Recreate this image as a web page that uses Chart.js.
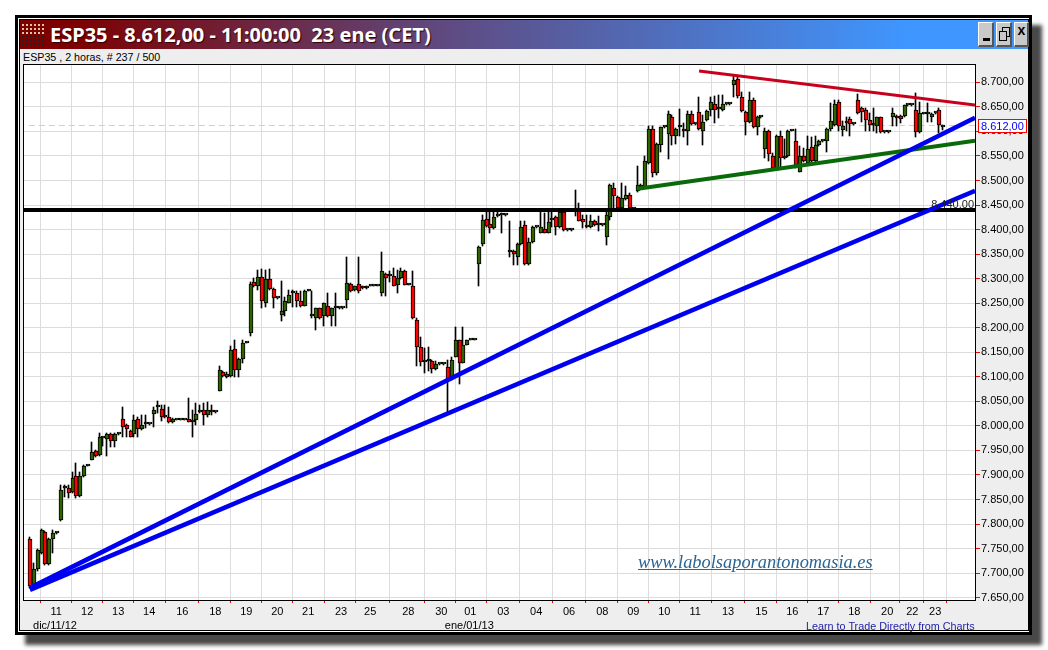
<!DOCTYPE html>
<html lang="es">
<head>
<meta charset="utf-8">
<title>ESP35</title>
<script src="https://cdn.jsdelivr.net/npm/chart.js@4"></script>
<style>
  html, body { margin: 0; padding: 0; background: #fff; }
  #page { position: relative; width: 1048px; height: 650px; overflow: hidden; font-family: "Liberation Sans", Arial, sans-serif; }
  #page div, #page a, #page canvas { position: absolute; }
  #outer { left: 15px; top: 15px; width: 1017px; height: 620px; box-sizing: border-box; border: 3px solid #000; background: #fff; box-shadow: 10px 10px 4px #484848; }
  #inner { left: 19px; top: 19px; width: 1010px; height: 612px; box-sizing: border-box; border: 1px solid #000; background: #eee; }
  #titlebar { left: 20px; top: 20px; width: 1008px; height: 29px; background: linear-gradient(90deg, #7d0000 0%, #7d0000 5%, #5f4a80 42%, #3f96ff 88%, #3f96ff 100%); }
  #title { left: 50px; top: 20px; height: 29px; color: #fff; font: bold 20px/29px "Noto Sans", sans-serif; white-space: pre; text-shadow: 1px 1px 1px #300; }
  .dots { left: 21px; width: 25px; }
  #dotsTop { top: 23px; height: 11px; background-image: radial-gradient(circle, #d6c4a4 1px, transparent 1.2px); background-size: 4px 4px; }
  #dotsBot { top: 34px; height: 12px; background-image: radial-gradient(circle, #222 1px, transparent 1.2px); background-size: 4px 4px; }
  .btn { top: 22px; height: 25px; box-sizing: border-box; background: #c9c9c9; border-top: 1px solid #fff; border-left: 1px solid #fff; border-right: 2px solid #555; border-bottom: 2px solid #555; }
  #subtitle { left: 23px; top: 50px; font-size: 10.7px; line-height: 14px; color: #000; white-space: pre; }
  #watermark { left: 638px; top: 551px; font: italic 18.4px/22px "Liberation Serif", serif; color: #2b6594; text-decoration: underline; white-space: pre; }
  #learn { left: 806px; top: 619px; font-size: 10.8px; line-height: 14px; color: #2222aa; white-space: pre; }
</style>
</head>
<body>
<div id="page">
  <div id="outer"></div>
  <div id="inner"></div>
  <div id="titlebar"></div>
  <div class="dots" id="dotsTop"></div>
  <div class="dots" id="dotsBot"></div>
  <div id="title">ESP35 - 8.612,00 - 11:00:00  23 ene (CET)</div>
  <div class="btn" style="left:978px;width:16px"></div>
  <div style="left:983px;top:38px;width:7px;height:3px;background:#000"></div>
  <div class="btn" style="left:996px;width:16px"></div>
  <div style="left:1002px;top:27px;width:6px;height:8px;border:1px solid #000"></div>
  <div style="left:999px;top:31px;width:6px;height:8px;border:1px solid #000;background:#c9c9c9"></div>
  <div class="btn" style="left:1014px;width:15px"></div>
  <div style="left:1016px;top:22px;width:11px;text-align:center;font:bold 14px/16px 'Liberation Sans',sans-serif;color:#000">x</div>
  <div id="subtitle">ESP35 , 2 horas, # 237 / 500</div>
  <canvas id="chart" width="1048" height="650" style="left:0;top:0"></canvas>
  <div id="watermark">www.labolsaporantonomasia.es</div>
  <div id="learn">Learn to Trade Directly from Charts</div>
</div>
<script>
// Candles, one entry per 2 hour bar
const opens = [
  7770,7674,7708,7742,7783,7718,7769,7781,7809,7873,
  7873,7865,7898,7857,7897,7919,7931,7948,7941,7975,
  7973,7983,7970,7983,8014,8001,7989,7983,8014,7993,
  8003,8003,8024,8039,8034,8022,8018,8007,8012,8012,
  8012,8014,8007,8011,8028,8033,8022,8032,8028,8072,
  8110,8099,8102,8156,8114,8136,8169,8189,8294,8285,
  8304,8250,8299,8279,8260,8226,8234,8250,8270,8270,
  8254,8245,8275,8224,8220,8240,8224,8245,8224,8240,
  8240,8240,8256,8289,8277,8289,8284,8280,8285,8285,
  8285,8270,8309,8306,8306,8288,8301,8315,8288,8285,
  8215,8160,8130,8133,8133,8116,8126,8126,8120,8097,
  8140,8175,8129,8165,8175,8175,8329,8370,8421,8411,
  8404,8427,8429,8429,8354,8357,8345,8370,8410,8329,
  8374,8405,8394,8401,8394,8420,8425,8405,8435,8399,
  8399,8440,8437,8421,8408,8405,8418,8409,8409,8384,
  8425,8484,8466,8444,8463,8471,8442,8479,8490,8486,
  8535,8604,8515,8573,8608,8595,8629,8590,8608,8604,
  8600,8635,8615,8639,8600,8624,8644,8655,8645,8644,
  8655,8655,8695,8706,8670,8639,8619,8663,8609,8629,
  8564,8601,8550,8525,8590,8545,8549,8601,8581,8518,
  8550,8535,8569,8539,8573,8580,8580,8604,8613,8660,
  8603,8620,8625,8615,8664,8647,8643,8624,8613,8612,
  8629,8598,8598,8629,8632,8632,8632,8653,8653,8643,
  8598,8636,8636,8629,8637,8643,8609
];
const highs = [
  7773,7720,7750,7789,7785,7772,7788,7783,7880,7880,
  7880,7907,7924,7907,7920,7920,7968,7950,7985,7977,
  7985,7985,7985,7984,8039,8003,7992,8022,8019,8022,
  8022,8004,8039,8050,8043,8043,8039,8016,8013,8013,
  8013,8056,8033,8046,8043,8046,8048,8043,8029,8122,
  8112,8110,8163,8175,8138,8175,8170,8294,8302,8318,
  8319,8318,8319,8281,8261,8296,8263,8277,8277,8274,
  8274,8277,8276,8274,8240,8241,8251,8270,8240,8270,
  8241,8241,8344,8292,8286,8344,8286,8286,8286,8286,
  8286,8354,8311,8315,8321,8318,8321,8318,8289,8315,
  8219,8182,8158,8160,8135,8133,8127,8127,8135,8141,
  8201,8176,8201,8176,8176,8176,8366,8430,8440,8437,
  8437,8437,8434,8430,8417,8359,8372,8417,8417,8383,
  8407,8406,8437,8434,8437,8437,8427,8437,8436,8400,
  8400,8481,8454,8430,8430,8430,8420,8427,8410,8440,
  8492,8495,8468,8495,8488,8475,8443,8530,8492,8549,
  8610,8610,8577,8609,8609,8641,8634,8607,8645,8617,
  8641,8641,8616,8670,8634,8644,8670,8673,8675,8675,
  8656,8656,8712,8712,8680,8641,8680,8668,8631,8630,
  8607,8603,8556,8592,8601,8584,8603,8602,8605,8571,
  8566,8590,8588,8590,8582,8581,8606,8658,8664,8664,
  8622,8630,8630,8616,8676,8650,8647,8638,8647,8630,
  8630,8599,8599,8647,8634,8634,8654,8654,8654,8678,
  8660,8637,8657,8637,8638,8647,8613
];
const lows = [
  7669,7669,7705,7738,7716,7716,7742,7779,7807,7856,
  7853,7863,7853,7856,7895,7918,7931,7936,7938,7960,
  7938,7958,7958,7982,7977,7977,7977,7977,7977,7991,
  7995,8002,7997,8026,8009,8016,8005,8005,8011,8011,
  8011,8007,7977,8002,8026,8002,8019,8023,8027,8072,
  8100,8097,8100,8099,8100,8129,8168,8184,8283,8277,
  8240,8243,8277,8240,8259,8214,8223,8250,8243,8243,
  8243,8244,8274,8220,8195,8218,8204,8222,8204,8204,
  8239,8239,8240,8273,8275,8270,8278,8278,8284,8284,
  8284,8265,8264,8294,8284,8270,8300,8287,8287,8218,
  8122,8122,8108,8111,8108,8114,8125,8125,8027,8094,
  8140,8085,8129,8164,8174,8174,8284,8366,8406,8394,
  8402,8425,8394,8428,8345,8328,8328,8369,8327,8327,
  8372,8404,8394,8392,8392,8405,8388,8403,8398,8398,
  8398,8428,8417,8403,8404,8403,8408,8398,8408,8369,
  8420,8444,8440,8442,8461,8443,8441,8477,8484,8484,
  8533,8508,8512,8557,8607,8544,8573,8574,8590,8588,
  8573,8613,8614,8603,8573,8622,8631,8618,8627,8642,
  8654,8654,8670,8668,8639,8593,8617,8607,8593,8628,
  8546,8539,8522,8522,8525,8543,8547,8600,8525,8518,
  8537,8533,8535,8537,8571,8579,8559,8600,8611,8600,
  8590,8600,8590,8614,8636,8620,8600,8600,8600,8596,
  8597,8597,8597,8611,8611,8618,8630,8652,8652,8588,
  8597,8635,8620,8620,8636,8596,8603
];
const closes = [
  7673,7708,7747,7787,7718,7770,7781,7781,7870,7873,
  7863,7893,7857,7897,7919,7919,7946,7938,7977,7975,
  7983,7970,7983,7983,7997,7993,7977,8011,7993,8001,
  8003,8003,8033,8039,8018,8018,8007,8014,8012,8012,
  8012,8008,8007,8024,8033,8022,8033,8028,8028,8114,
  8102,8105,8155,8114,8136,8169,8169,8289,8285,8304,
  8254,8299,8279,8260,8260,8235,8254,8267,8270,8254,
  8245,8274,8275,8224,8240,8220,8250,8224,8240,8240,
  8240,8240,8291,8275,8284,8275,8280,8284,8285,8285,
  8285,8315,8301,8309,8284,8301,8315,8288,8288,8220,
  8160,8130,8133,8133,8116,8126,8126,8126,8095,8135,
  8175,8129,8165,8175,8175,8175,8364,8420,8408,8404,
  8425,8428,8429,8429,8354,8350,8370,8405,8329,8374,
  8405,8405,8405,8394,8415,8420,8405,8435,8399,8399,
  8399,8440,8418,8415,8405,8418,8409,8409,8409,8430,
  8491,8469,8444,8464,8471,8444,8442,8490,8486,8540,
  8604,8515,8575,8608,8608,8635,8590,8605,8608,8600,
  8635,8615,8615,8605,8619,8641,8660,8644,8645,8655,
  8655,8655,8705,8673,8641,8620,8663,8609,8629,8629,
  8601,8554,8525,8590,8545,8549,8601,8601,8532,8550,
  8539,8564,8539,8573,8580,8580,8604,8621,8655,8611,
  8612,8618,8615,8615,8638,8640,8624,8613,8613,8629,
  8598,8598,8598,8637,8627,8625,8653,8653,8653,8598,
  8637,8636,8636,8636,8637,8613,8612
];

// X axis: bar position of each day mark and its label
const dayTicks = [6.8,14.8,22.8,30.8,39.35,47.9,55.9,63.9,71.9,80.4,87.9,97.75,106.3,113.8,122.3,130.8,139.3,147.9,155.9,163.9,171.9,180.4,189,197,205,213,221.5,228,233.9];
const dayLabels = ["11","12","13","14","16","18","19","20","21","23","25","28","30","01","03","04","06","08","09","10","11","13","15","16","17","18","20","22","23"];
const monthLabels = ["dic/11/12","ene/01/13"];
const monthTicks = [0.8,107.2];

// Y axis
const priceTicks = [7650,7700,7750,7800,7850,7900,7950,8000,8050,8100,8150,8200,8250,8300,8350,8400,8450,8500,8550,8600,8650,8700];

// Drawn lines: [bar, price] at each end
const blueUpper = [[0,7670],[244.2,8628]];
const blueLower = [[0,7666],[244.2,8479]];
const greenLine = [[157.1,8483],[244.2,8581]];
const redLine = [[172.9,8723],[244.2,8654]];
const lastPrice = 8612;
const supportPrice = 8440;

const X_MIN = -1.8;
const X_MAX = 244.2;
const BODY_SET = 5;
const WICK_SET = 6;

function esPrice(v) {
  const s = v.toFixed(2).replace(".", ",");
  return s.slice(0, 1) + "." + s.slice(1);
}

function toPoints(line) {
  return line.map((p) => ({ x: p[0], y: p[1] }));
}

function lineSet(data, color, width) {
  return { type: "line", data: data, borderColor: color, borderWidth: width, pointRadius: 0, tension: 0, fill: false };
}

// White plot, and candles snapped to whole pixels so they stay crisp
const plotBack = {
  id: "plotBack",
  beforeDraw(chart) {
    const { ctx, chartArea } = chart;
    ctx.save();
    ctx.fillStyle = "#fff";
    ctx.fillRect(chartArea.left, chartArea.top, chartArea.right - chartArea.left, chartArea.bottom - chartArea.top);
    ctx.restore();
  },
  beforeDatasetsDraw(chart) {
    chart.getDatasetMeta(BODY_SET).data.forEach((el) => {
      el.x = Math.round(el.x);
      el.y = Math.round(el.y);
      el.base = Math.round(el.base);
    });
    chart.getDatasetMeta(WICK_SET).data.forEach((el) => {
      el.x = Math.round(el.x) - 0.5;
      el.y = Math.round(el.y);
      el.base = Math.round(el.base);
    });
  },
};

// Texts that sit on the chart but are not ticks
const chartNotes = {
  id: "chartNotes",
  afterDraw(chart) {
    const { ctx, chartArea, scales } = chart;
    ctx.save();
    // plot frame
    ctx.strokeStyle = "#000";
    ctx.lineWidth = 1;
    ctx.strokeRect(chartArea.left + 0.5, chartArea.top + 0.5, chartArea.right - chartArea.left, chartArea.bottom - chartArea.top);

    ctx.font = '11px "Liberation Sans", sans-serif';
    ctx.textBaseline = "middle";

    // level label over the black line
    ctx.fillStyle = "#222";
    ctx.textAlign = "right";
    ctx.fillText(esPrice(supportPrice), chartArea.right - 1, scales.y.getPixelForValue(supportPrice) - 5);

    // last price box
    const py = Math.round(scales.y.getPixelForValue(lastPrice));
    ctx.fillStyle = "#fff";
    ctx.fillRect(978, py - 6, 48, 13);
    ctx.strokeStyle = "#f00";
    ctx.strokeRect(978.5, py - 6.5, 48, 13);
    ctx.fillStyle = "#00f";
    ctx.textAlign = "left";
    ctx.fillText(esPrice(lastPrice), 981, py + 0.5);

    // month marks
    ctx.fillStyle = "#000";
    monthLabels.forEach((m, i) => {
      ctx.fillText(m, scales.x.getPixelForValue(monthTicks[i]), 626);
    });
    ctx.restore();
  },
};

const barIndex = opens.map((_, i) => i);

new Chart(document.getElementById("chart"), {
  data: {
    datasets: [
      lineSet(toPoints(blueUpper), "#0000f0", 4.5),
      lineSet(toPoints(blueLower), "#0000f0", 4.5),
      lineSet(toPoints(redLine), "#c8001e", 3),
      lineSet(toPoints(greenLine), "#0a6a0a", 4),
      lineSet([{ x: X_MIN, y: supportPrice }, { x: X_MAX, y: supportPrice }], "#000", 4),
      {
        type: "bar",
        data: barIndex.map((i) => ({ x: i, y: [opens[i], closes[i]] })),
        backgroundColor: barIndex.map((i) => (closes[i] >= opens[i] ? "#2e6400" : "#ff0000")),
        borderColor: "#000",
        borderWidth: 1,
        borderSkipped: false,
        barThickness: 4,
        minBarLength: 2,
        grouped: false,
      },
      {
        type: "bar",
        data: barIndex.map((i) => ({ x: i, y: [lows[i], highs[i]] })),
        backgroundColor: "#000",
        barThickness: 1,
        grouped: false,
      },
      Object.assign(lineSet([{ x: -0.3, y: lastPrice }, { x: X_MAX, y: lastPrice }], "#cfcfcf", 1), { borderDash: [6, 4] }),
    ],
  },
  options: {
    responsive: false,
    animation: false,
    layout: { padding: { left: 23, top: 64, right: 0, bottom: 0 } },
    plugins: { legend: { display: false }, tooltip: { enabled: false } },
    scales: {
      x: {
        type: "linear",
        min: X_MIN,
        max: X_MAX,
        offset: false,
        afterBuildTicks(scale) {
          scale.ticks = dayTicks.map((v) => ({ value: v }));
        },
        afterFit(scale) {
          scale.height = 50;
        },
        ticks: {
          autoSkip: false,
          maxRotation: 0,
          includeBounds: false,
          padding: 2,
          color: "#000",
          font: { family: "Liberation Sans", size: 11 },
          callback: (v, i) => dayLabels[i],
        },
        grid: { color: "#dcdcdc", tickColor: "#f00", tickLength: 3 },
        border: { display: false },
      },
      y: {
        position: "right",
        min: 7645.3,
        max: 8737.3,
        afterBuildTicks(scale) {
          scale.ticks = priceTicks.map((v) => ({ value: v }));
        },
        afterFit(scale) {
          scale.width = 73;
        },
        ticks: {
          autoSkip: false,
          includeBounds: false,
          padding: 1,
          color: "#000",
          font: { family: "Liberation Sans", size: 11 },
          callback: (v) => esPrice(v),
        },
        grid: { color: "#dcdcdc", tickColor: "#f00", tickLength: 5 },
        border: { display: false },
      },
    },
  },
  plugins: [plotBack, chartNotes],
});
</script>
</body>
</html>
